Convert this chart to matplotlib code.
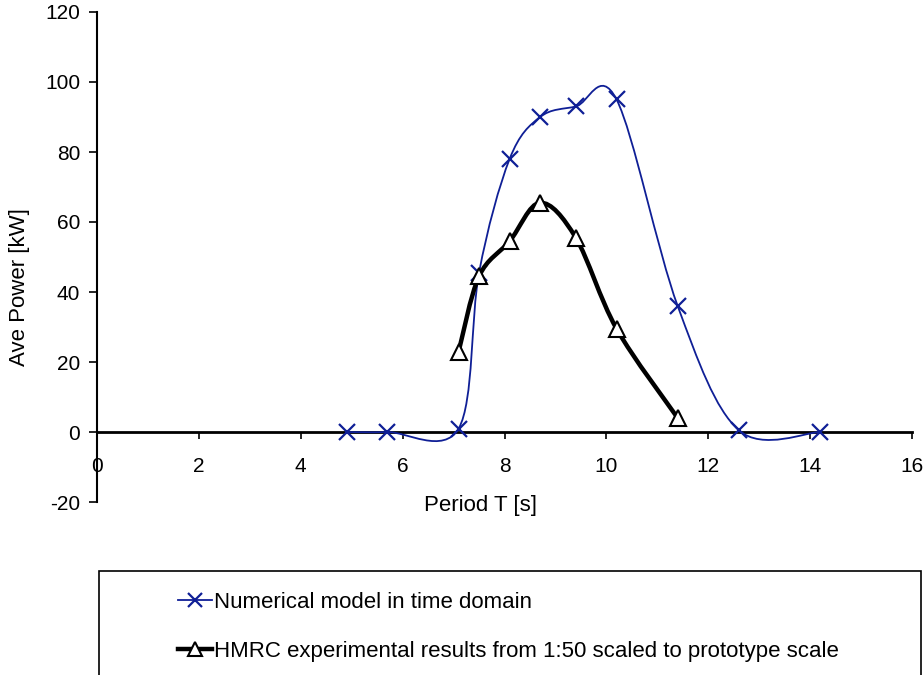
import numpy as np
import matplotlib.pyplot as plt
from matplotlib.path import Path
from matplotlib.patches import PathPatch, Rectangle
from matplotlib.lines import Line2D

plt.rcParams['font.family'] = ['Liberation Sans', 'DejaVu Sans']
plt.rcParams['axes.unicode_minus'] = False

# data
period_num = [4.9, 5.7, 7.1, 7.5, 8.1, 8.7, 9.4, 10.2, 11.4, 12.6, 14.2]
power_num = [0.0, 0.0, 1.0, 45.5, 78.0, 90.0, 93.0, 95.0, 36.0, 0.5, 0.0]

period_exp = [7.1, 7.5, 8.1, 8.7, 9.4, 10.2, 11.4]
power_exp = [23.0, 44.5, 54.5, 65.5, 55.5, 29.5, 4.0]

label_num = "Numerical model in time domain"
label_exp = "HMRC experimental results from 1:50 scaled to prototype scale"

blue = '#0f1f96'


# Excel-style smoothed line as a bezier path
def smooth_path(x, y):
    pts = np.column_stack([x, y])
    n = len(pts)
    verts = [pts[0]]
    codes = [Path.MOVETO]
    for i in range(n - 1):
        p0 = pts[max(i - 1, 0)]
        p1 = pts[i]
        p2 = pts[i + 1]
        p3 = pts[min(i + 2, n - 1)]
        verts += [p1 + (p2 - p0) / 6, p2 - (p3 - p1) / 6, p2]
        codes += [Path.CURVE4] * 3
    return Path(verts, codes)


fig = plt.figure(figsize=(9.24, 6.75), dpi=100)
ax = fig.add_axes([97 / 924, 173 / 675, 815 / 924, 490 / 675])

ax.add_patch(PathPatch(smooth_path(period_num, power_num), fill=False,
                       edgecolor=blue, lw=1.3, zorder=3))
ax.plot(period_num, power_num, ls='none', marker='x', ms=11, mew=1.6,
        color=blue, zorder=4)

ax.add_patch(PathPatch(smooth_path(period_exp, power_exp), fill=False,
                       edgecolor='black', lw=3.2, zorder=5))
ax.plot(period_exp, power_exp, ls='none', marker='^', ms=12, mew=1.5,
        mfc='white', mec='black', zorder=6)

ax.set_xlim(0, 16)
ax.set_ylim(-20, 120)
ax.set_xticks(range(0, 17, 2))
ax.set_yticks(range(-20, 121, 20))

ax.spines['top'].set_visible(False)
ax.spines['right'].set_visible(False)
ax.spines['bottom'].set_position(('data', 0))
ax.spines['bottom'].set_linewidth(2)
ax.spines['left'].set_linewidth(1.5)
ax.tick_params(axis='x', direction='out', length=5, width=1.2, pad=13,
               labelsize=15)
ax.tick_params(axis='y', direction='out', length=6, width=1.2, pad=6,
               labelsize=15)

ax.set_xlabel("Period T [s]", fontsize=16)
ax.xaxis.set_label_coords(0.471, 0.014)
ax.set_ylabel("Ave Power [kW]", fontsize=16)
ax.yaxis.set_label_coords(-0.082, 0.439)

# legend box running off the bottom of the figure
fig.patches.append(Rectangle((99 / 924, -0.05), 822 / 924, 0.05 + (675 - 571) / 675,
                             transform=fig.transFigure, fill=False,
                             edgecolor='black', lw=1.2))
handles = [
    Line2D([], [], color=blue, lw=1.3, marker='x', ms=10, mew=1.6),
    Line2D([], [], color='black', lw=3.2, marker='^', ms=10, mew=1.5,
           mfc='white', mec='black'),
]
fig.legend(handles, [label_num, label_exp], loc='upper left',
           bbox_to_anchor=(178 / 924, 1 - 592 / 675), frameon=False,
           fontsize=16, handlelength=1.55, handletextpad=0.05,
           labelspacing=1.25, borderaxespad=0, borderpad=0)

fig.savefig('out.png', dpi=100)
